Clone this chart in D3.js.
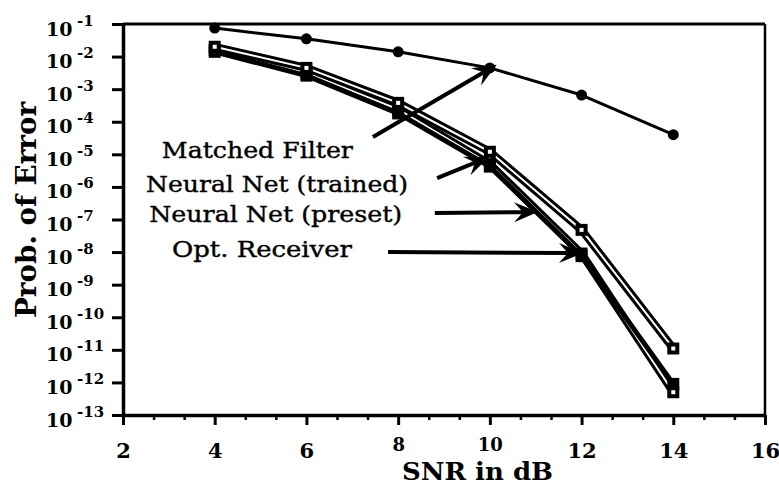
<!DOCTYPE html>
<html><head><meta charset="utf-8">
<script src="https://cdn.jsdelivr.net/npm/d3@7"></script>
<style>html,body{margin:0;padding:0;background:#fff;} svg{display:block}</style>
</head><body><svg id="c" width="779" height="488"></svg>
<script>
// ---- data ----
const snr = [4, 6, 8, 10, 12, 14];
const matchedFilter = [7.5e-2, 3.5e-2, 1.4e-2, 4.5e-3, 6.6e-4, 4.0e-5];
const nnTrained     = [2.0e-2, 4.5e-3, 3.8e-4, 1.2e-5, 4.8e-8, 1.1e-11];
const nnPreset      = [1.6e-2, 3.2e-3, 2.4e-4, 5.0e-6, 9.0e-9, 5.0e-13];
const optReceiver   = [1.4e-2, 2.6e-3, 1.8e-4, 4.2e-6, 7.5e-9, 9.0e-13];
const seriesNames = ["Matched Filter", "Neural Net (trained)", "Neural Net (preset)", "Opt. Receiver"];
const xTickValues = [2, 4, 6, 8, 10, 12, 14, 16];
const yTickExponents = [-1, -2, -3, -4, -5, -6, -7, -8, -9, -10, -11, -12, -13];
const xTitle = "SNR in dB";
const yTitle = "Prob. of Error";

// ---- layout ----
const FONT = "'DejaVu Serif', serif";
const svg = d3.select("#c");
const x = d3.scaleLinear().domain([2, 16]).range([123, 765]);
const y = d3.scaleLog().domain([1e-1, 1e-13]).range([24, 415]);
const yTicks = yTickExponents.map(e => Math.pow(10, e));

// frame (top + right)
svg.append("line").attr("x1", x(2)).attr("x2", x(16)).attr("y1", y(1e-1)).attr("y2", y(1e-1))
  .attr("stroke", "#000").attr("stroke-width", 3);
svg.append("line").attr("x1", x(16)).attr("x2", x(16)).attr("y1", y(1e-1)).attr("y2", y(1e-13))
  .attr("stroke", "#000").attr("stroke-width", 2.5);

// y axis
const gy = svg.append("g").attr("transform", `translate(${x(2)},0)`)
  .call(d3.axisLeft(y).tickValues(yTicks).tickSize(11).tickSizeOuter(0).tickFormat(() => ""));
gy.select(".domain").attr("stroke-width", 3.5);
gy.selectAll(".tick line").attr("stroke-width", 3);
gy.selectAll(".tick").each(function (d, i) {
  const g = d3.select(this);
  g.append("text").attr("x", -77).attr("y", 11).attr("text-anchor", "start")
    .attr("fill", "#000").attr("font-family", FONT).attr("font-weight", "bold").attr("font-size", 19)
    .text("10");
  g.append("text").attr("x", -46).attr("y", 1).attr("text-anchor", "start")
    .attr("fill", "#000").attr("font-family", FONT).attr("font-weight", "bold").attr("font-size", 15)
    .text(String(yTickExponents[i]));
});

// x axis (major + minor)
const minorTicks = [];
for (let i = 0; i < xTickValues.length - 1; i++) {
  const a = xTickValues[i], b = xTickValues[i + 1];
  minorTicks.push(a + (b - a) / 3, a + 2 * (b - a) / 3);
}
const gxm = svg.append("g").attr("transform", `translate(0,${y(1e-13)})`)
  .call(d3.axisBottom(x).tickValues(minorTicks).tickSize(5).tickSizeOuter(0).tickFormat(() => ""));
gxm.select(".domain").remove();
gxm.selectAll(".tick line").attr("stroke-width", 2.5);
const gx = svg.append("g").attr("transform", `translate(0,${y(1e-13)})`)
  .call(d3.axisBottom(x).tickValues(xTickValues).tickSize(10).tickSizeOuter(0));
gx.select(".domain").attr("stroke-width", 3.5);
gx.selectAll(".tick line").attr("stroke-width", 3);
// labels 8 and 10 sit raised above the axis title, as in the original
gx.selectAll(".tick text").attr("dy", null).attr("y", d => (d === 8 || d === 10) ? 36 : 43)
  .attr("font-family", FONT).attr("font-weight", "bold")
  .attr("font-size", d => (d === 8 || d === 10) ? 18 : 21).attr("fill", "#000");

// axis titles
svg.append("text").attr("x", (402 + 553) / 2).attr("y", 480).attr("text-anchor", "middle")
  .attr("font-family", FONT).attr("font-weight", "bold").attr("font-size", 25)
  .attr("textLength", 151).attr("lengthAdjust", "spacingAndGlyphs").text(xTitle);
svg.append("text").attr("transform", "translate(36,210) rotate(-90)").attr("text-anchor", "middle")
  .attr("font-family", FONT).attr("font-weight", "bold").attr("font-size", 27)
  .attr("textLength", 216).attr("lengthAdjust", "spacingAndGlyphs").text(yTitle);

// ---- series ----
const line = d3.line().x(d => x(d[0])).y(d => y(d[1]));
const pts = arr => snr.map((s, i) => [s, arr[i]]);
const plot = svg.append("g");

// matched filter
plot.append("path").attr("d", line(pts(matchedFilter))).attr("fill", "none")
  .attr("stroke", "#000").attr("stroke-width", 3).attr("stroke-linejoin", "round");
// hollow line helper
function hollow(arr) {
  plot.append("path").attr("d", line(pts(arr))).attr("fill", "none")
    .attr("stroke", "#000").attr("stroke-width", 8).attr("stroke-linejoin", "round");
  plot.append("path").attr("d", line(pts(arr))).attr("fill", "none")
    .attr("stroke", "#fff").attr("stroke-width", 2).attr("stroke-linejoin", "round");
}
hollow(nnPreset);
plot.append("path").attr("d", line(pts(optReceiver))).attr("fill", "none")
  .attr("stroke", "#000").attr("stroke-width", 5).attr("stroke-linejoin", "round");
hollow(nnTrained);

// markers
plot.selectAll(".mf").data(pts(matchedFilter)).enter().append("circle")
  .attr("cx", d => x(d[0])).attr("cy", d => y(d[1])).attr("r", 5.5).attr("fill", "#000");
function openSquares(arr) {
  const g = plot.append("g");
  g.selectAll("rect.o").data(pts(arr)).enter().append("rect")
    .attr("x", d => x(d[0]) - 6).attr("y", d => y(d[1]) - 6).attr("width", 12).attr("height", 12).attr("fill", "#000");
  g.selectAll("rect.i").data(pts(arr)).enter().append("rect")
    .attr("x", d => x(d[0]) - 2).attr("y", d => y(d[1]) - 2).attr("width", 4).attr("height", 4).attr("fill", "#fff");
}
openSquares(nnPreset);
plot.selectAll(".op").data(pts(optReceiver)).enter().append("rect")
  .attr("x", d => x(d[0]) - 6).attr("y", d => y(d[1]) - 6).attr("width", 12).attr("height", 12).attr("fill", "#000");
openSquares(nnTrained);

// ---- annotations (label centre / baseline and arrow tail -> tip in data units) ----
const annotations = [
  { text: seriesNames[0], cx: 4.93, by: 10 ** -5.11, w: 191, tail: [7.45, 10 ** -4.47], tip: [10.15, 10 ** -2.25] },
  { text: seriesNames[1], cx: 5.36, by: 10 ** -6.16, w: 262, tail: [8.85, 10 ** -5.73], tip: [9.98, 10 ** -5.08] },
  { text: seriesNames[2], cx: 5.33, by: 10 ** -7.08, w: 253, tail: [8.80, 10 ** -6.80], tip: [11.05, 10 ** -6.77] },
  { text: seriesNames[3], cx: 5.03, by: 10 ** -8.15, w: 180, tail: [7.78, 10 ** -8.00], tip: [12.03, 10 ** -8.03] }
];
const ann = svg.append("g");
annotations.forEach(a => {
  ann.append("text").attr("x", x(a.cx)).attr("y", y(a.by)).attr("text-anchor", "middle")
    .attr("font-family", FONT).attr("font-size", 23).attr("fill", "#000")
    .attr("stroke", "#000").attr("stroke-width", 0.4)
    .attr("textLength", a.w).attr("lengthAdjust", "spacingAndGlyphs").text(a.text);
  const x0 = x(a.tail[0]), y0 = y(a.tail[1]), x1 = x(a.tip[0]), y1 = y(a.tip[1]);
  const ang = Math.atan2(y1 - y0, x1 - x0);
  const L = 24, W = 10, N = 15;
  const ux = Math.cos(ang), uy = Math.sin(ang), px = -uy, py = ux;
  ann.append("line").attr("x1", x0).attr("y1", y0).attr("x2", x1 - ux * N).attr("y2", y1 - uy * N)
    .attr("stroke", "#000").attr("stroke-width", 4);
  const pth = d3.path();
  pth.moveTo(x1, y1);
  pth.lineTo(x1 - ux * L + px * W, y1 - uy * L + py * W);
  pth.lineTo(x1 - ux * N, y1 - uy * N);
  pth.lineTo(x1 - ux * L - px * W, y1 - uy * L - py * W);
  pth.closePath();
  ann.append("path").attr("d", pth.toString()).attr("fill", "#000");
});
</script>
</body></html>
